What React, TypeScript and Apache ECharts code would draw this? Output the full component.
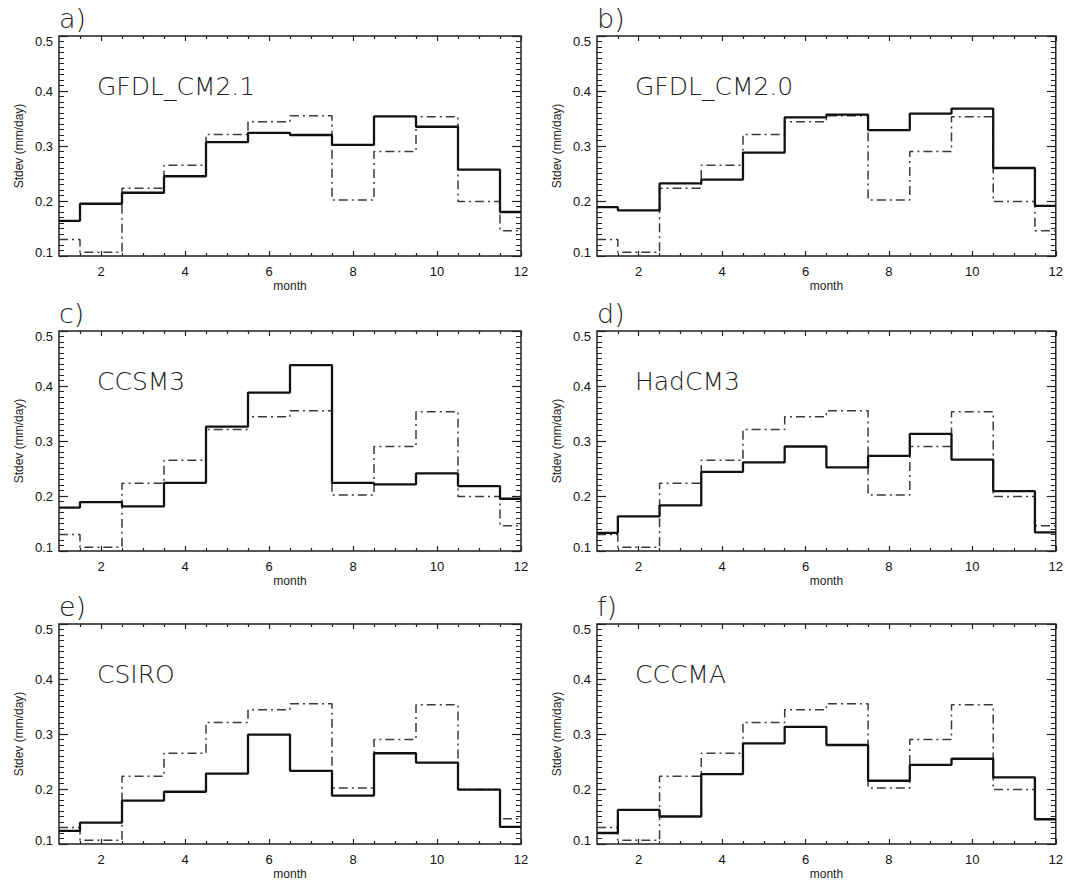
import React, { useEffect, useRef } from "react";
import * as echarts from "echarts";

// ---- data ----
const months = [1, 2, 3, 4, 5, 6, 7, 8, 9, 10, 11, 12];
const observed = [0.13, 0.107, 0.223, 0.265, 0.321, 0.344, 0.355, 0.202, 0.29, 0.353, 0.199, 0.146];
const gfdlCm21 = [0.164, 0.195, 0.215, 0.245, 0.307, 0.324, 0.32, 0.302, 0.354, 0.335, 0.257, 0.18];
const gfdlCm20 = [0.189, 0.183, 0.232, 0.239, 0.288, 0.352, 0.357, 0.329, 0.359, 0.368, 0.26, 0.191];
const ccsm3 = [0.179, 0.189, 0.181, 0.224, 0.326, 0.388, 0.438, 0.224, 0.221, 0.241, 0.218, 0.195];
const hadcm3 = [0.133, 0.163, 0.183, 0.244, 0.261, 0.29, 0.252, 0.273, 0.313, 0.266, 0.209, 0.134];
const csiro = [0.124, 0.139, 0.179, 0.195, 0.228, 0.299, 0.233, 0.188, 0.265, 0.248, 0.199, 0.131];
const cccma = [0.12, 0.162, 0.15, 0.227, 0.283, 0.313, 0.28, 0.215, 0.244, 0.255, 0.221, 0.145];

const modelValues = [gfdlCm21, gfdlCm20, ccsm3, hadcm3, csiro, cccma];
const modelNames = ["GFDL_CM2.1", "GFDL_CM2.0", "CCSM3", "HadCM3", "CSIRO", "CCCMA"];
const panelLetters = ["a)", "b)", "c)", "d)", "e)", "f)"];

const xMajorTicks = [2, 4, 6, 8, 10, 12];
const xMinorTicks = [1.5, 2.5, 3, 3.5, 4.5, 5, 5.5, 6.5, 7, 7.5, 8.5, 9, 9.5, 10.5, 11, 11.5];
const yMin = 0.1;
const yMax = 0.5;
const yStep = 0.1;

// ---- layout ----
const colLeft = [59, 597];
const colWidth = [462, 460];
const rowTop = [36, 331, 624];
const panelHeight = 220;

const labelFont = "Liberation Sans";
const thinFont = "DejaVu Sans";

export default function App() {
  const ref = useRef<HTMLDivElement>(null);

  useEffect(() => {
    if (!ref.current) return;
    const chart = echarts.init(ref.current, undefined, { renderer: "svg" });

    const grids: any[] = [];
    const xAxes: any[] = [];
    const yAxes: any[] = [];
    const series: any[] = [];
    const graphics: any[] = [];

    for (let i = 0; i < 6; i++) {
      const col = i % 2;
      const row = Math.floor(i / 2);
      const left = colLeft[col];
      const top = rowTop[row];
      const width = colWidth[col];

      grids.push({
        left,
        top,
        width,
        height: panelHeight,
        show: true,
        borderColor: "#222",
        borderWidth: 1.5,
        backgroundColor: "transparent",
      });

      const baseX = {
        type: "value",
        gridIndex: i,
        min: 1,
        max: 12,
        axisLine: { show: false },
        splitLine: { show: false },
      };
      // bottom major (labels + name)
      xAxes.push({
        ...baseX,
        position: "bottom",
        name: "month",
        nameLocation: "middle",
        nameGap: 24,
        nameTextStyle: { fontFamily: labelFont, fontSize: 12, color: "#222" },
        axisTick: { show: true, inside: true, length: 5, customValues: xMajorTicks, lineStyle: { color: "#222", width: 1.2 } },
        axisLabel: { show: true, customValues: xMajorTicks, margin: 9, fontFamily: labelFont, fontSize: 13, color: "#111" },
      });
      // bottom minor
      xAxes.push({
        ...baseX,
        position: "bottom",
        axisTick: { show: true, inside: true, length: 3, customValues: xMinorTicks, lineStyle: { color: "#222", width: 1.2 } },
        axisLabel: { show: false },
      });
      // top major
      xAxes.push({
        ...baseX,
        position: "top",
        axisTick: { show: true, inside: true, length: 5, customValues: xMajorTicks, lineStyle: { color: "#222", width: 1.2 } },
        axisLabel: { show: false },
      });
      // top minor
      xAxes.push({
        ...baseX,
        position: "top",
        axisTick: { show: true, inside: true, length: 3, customValues: xMinorTicks, lineStyle: { color: "#222", width: 1.2 } },
        axisLabel: { show: false },
      });

      const baseY = {
        type: "value",
        gridIndex: i,
        min: yMin,
        max: yMax,
        interval: yStep,
        axisLine: { show: false },
        splitLine: { show: false },
        axisTick: { show: true, inside: true, length: 9, lineStyle: { color: "#222", width: 1.2 } },
        minorTick: { show: true, splitNumber: 10, length: 5, lineStyle: { color: "#222", width: 1 } },
        minorSplitLine: { show: false },
      };
      yAxes.push({
        ...baseY,
        position: "left",
        name: "Stdev (mm/day)",
        nameLocation: "middle",
        nameGap: 34,
        nameTextStyle: { fontFamily: labelFont, fontSize: 12, color: "#222" },
        axisLabel: {
          show: true,
          margin: 6,
          fontFamily: labelFont,
          fontSize: 13,
          color: "#111",
          formatter: (v: number) => {
            const s = v.toFixed(1);
            if (Math.abs(v - yMax) < 1e-6) return "{top|" + s + "}";
            if (Math.abs(v - yMin) < 1e-6) return "{bot|" + s + "}";
            return s;
          },
          rich: {
            top: { fontFamily: labelFont, fontSize: 13, color: "#111", padding: [11, 0, 0, 0] },
            bot: { fontFamily: labelFont, fontSize: 13, color: "#111", padding: [0, 0, 8, 0] },
          },
        },
      });
      yAxes.push({
        ...baseY,
        position: "right",
        axisLabel: { show: false },
      });

      series.push({
        type: "line",
        name: "observed",
        xAxisIndex: i * 4,
        yAxisIndex: i * 2,
        step: "middle",
        symbol: "none",
        data: months.map((m, k) => [m, observed[k]]),
        lineStyle: { color: "#3a3a3a", width: 1.5, type: [9, 4, 2, 4] },
        z: 2,
      });
      series.push({
        type: "line",
        name: modelNames[i],
        xAxisIndex: i * 4,
        yAxisIndex: i * 2,
        step: "middle",
        symbol: "none",
        data: months.map((m, k) => [m, modelValues[i][k]]),
        lineStyle: { color: "#111", width: 2.3, type: "solid" },
        z: 3,
      });

      graphics.push({
        type: "text",
        x: left,
        y: top - 4,
        style: {
          text: panelLetters[i],
          fontFamily: thinFont,
          fontWeight: 200,
          fontSize: 27,
          fill: "#222",
          verticalAlign: "bottom",
          align: "left",
        },
      });
      graphics.push({
        type: "text",
        x: left + 38,
        y: top + 50,
        style: {
          text: modelNames[i],
          fontFamily: thinFont,
          fontWeight: 200,
          fontSize: 25,
          fill: "#222",
          verticalAlign: "middle",
          align: "left",
        },
      });
    }

    chart.setOption({
      animation: false,
      backgroundColor: "#fff",
      grid: grids,
      xAxis: xAxes,
      yAxis: yAxes,
      series,
      graphic: graphics,
    });

    return () => chart.dispose();
  }, []);

  return (
    <div
      ref={ref}
      style={{ position: "fixed", left: 0, top: 0, width: 1066, height: 883, background: "#fff" }}
    />
  );
}
